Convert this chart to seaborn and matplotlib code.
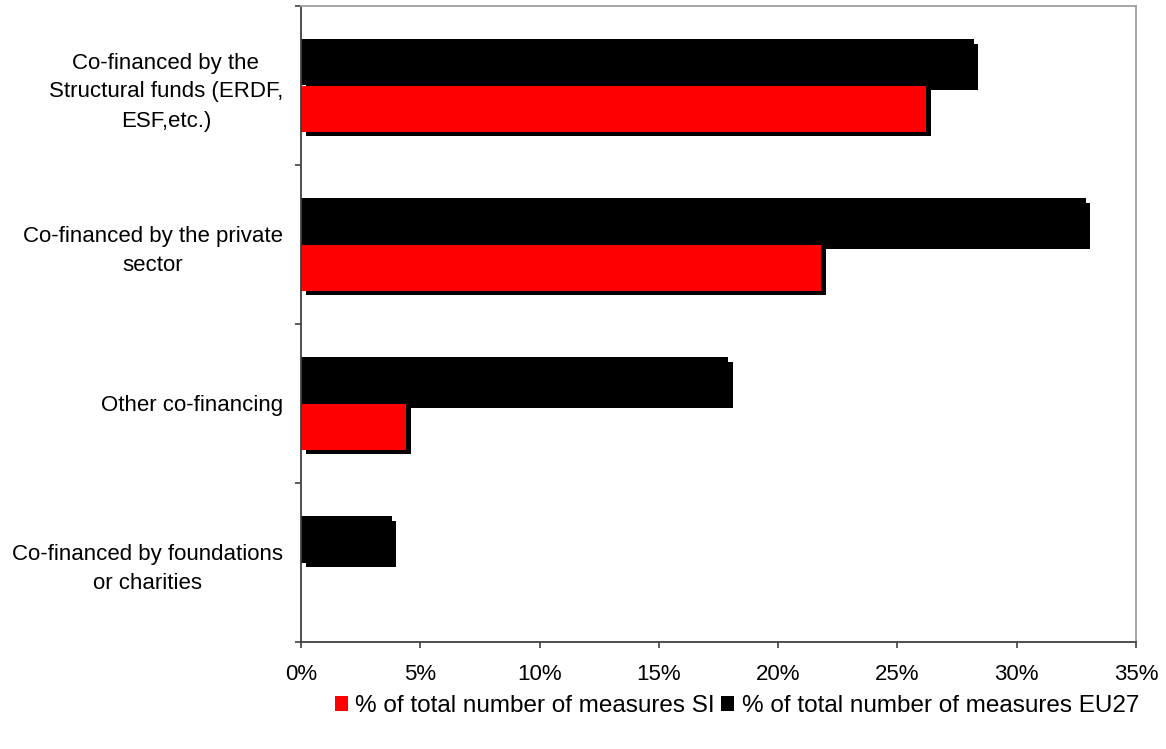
import matplotlib
matplotlib.use("Agg")
import matplotlib.pyplot as plt
import matplotlib.patheffects as pe
from matplotlib.ticker import PercentFormatter, FixedLocator
from matplotlib.patches import Patch
import seaborn as sns
import pandas as pd

categories = [
    "Co-financed by the\nStructural funds (ERDF,\nESF,etc.)",
    "Co-financed by the private\nsector",
    "Other co-financing",
    "Co-financed by foundations\nor charities",
]
si_values = [26.2, 21.8, 4.4, 0.0]
eu27_values = [28.2, 32.9, 17.9, 3.8]
series_names = ["% of total number of measures SI", "% of total number of measures EU27"]
x_ticks = [0, 5, 10, 15, 20, 25, 30, 35]

df = pd.DataFrame({
    "category": categories * 2,
    "value": si_values + eu27_values,
    "series": [series_names[0]] * 4 + [series_names[1]] * 4,
})

sns.set_style("white")
plt.rcParams["font.family"] = ["Liberation Sans", "DejaVu Sans"]
plt.rcParams["text.color"] = "black"
plt.rcParams["xtick.color"] = "black"
plt.rcParams["ytick.color"] = "black"

fig = plt.figure(figsize=(11.66, 7.49), dpi=100)
ax = fig.add_axes([301 / 1166, 1 - 642 / 749, (1136 - 301) / 1166, (642 - 6) / 749])

palette = {series_names[0]: "#ff0000", series_names[1]: "#000000"}
sns.barplot(data=df, x="value", y="category", hue="series",
            hue_order=[series_names[1], series_names[0]], order=categories,
            palette=palette, width=0.58, orient="h", ax=ax, legend=False,
            saturation=1, linewidth=0, errorbar=None)

for p in ax.patches:
    p.set_path_effects([pe.SimplePatchShadow(offset=(3.3, -3.3), shadow_rgbFace="black", alpha=1.0),
                        pe.Normal()])

ax.set_xlim(0, 35)
ax.set_ylim(len(categories) - 0.5, -0.5)
ax.xaxis.set_major_locator(FixedLocator(x_ticks))
ax.xaxis.set_major_formatter(PercentFormatter(decimals=0))
ax.set_xlabel("")
ax.set_ylabel("")

# category boundary ticks
ax.yaxis.set_minor_locator(FixedLocator([i - 0.5 for i in range(len(categories) + 1)]))
ax.tick_params(axis="y", which="major", length=0, pad=13, labelsize=16, labelcolor="black")
ax.tick_params(axis="y", which="minor", length=4, width=1.2, color="#404040", left=True)
ax.tick_params(axis="x", which="major", length=4, width=1.2, color="#404040", bottom=True,
               pad=12, labelsize=16, labelcolor="black")
for lbl in ax.get_yticklabels():
    lbl.set_multialignment("center")
    lbl.set_linespacing(1.5)

for side in ["left", "bottom"]:
    ax.spines[side].set_color("#404040")
    ax.spines[side].set_linewidth(1.3)
for side in ["top", "right"]:
    ax.spines[side].set_visible(True)
    ax.spines[side].set_color("#a0a0a0")
    ax.spines[side].set_linewidth(1.3)

handles = [Patch(facecolor="#ff0000", edgecolor="none"), Patch(facecolor="#000000", edgecolor="none")]
fig.legend(handles, series_names, loc="center", bbox_to_anchor=(0.632, 1 - 706 / 749), ncol=2,
           frameon=False, fontsize=17.5, handlelength=0.55, handleheight=0.55, handletextpad=0.3,
           columnspacing=0.25, borderaxespad=0, labelcolor="black")

fig.savefig("out.png", dpi=100)
